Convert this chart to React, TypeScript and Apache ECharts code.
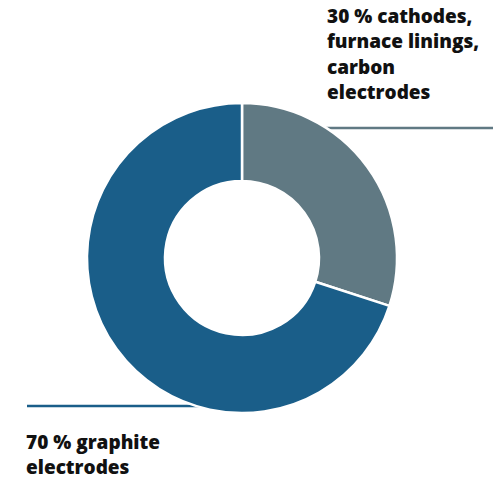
import React, { useEffect, useRef } from "react";
import * as echarts from "echarts";

const categories = ["cathodes, furnace linings, carbon electrodes", "graphite electrodes"];
const labelTexts = ["30 % cathodes,\nfurnace linings,\ncarbon\nelectrodes", "70 % graphite\nelectrodes"];
const values = [30, 70];
const colors = ["#607983", "#1a5e89"];

export default function App() {
  const ref = useRef<HTMLDivElement>(null);
  useEffect(() => {
    if (!ref.current) return;
    const chart = echarts.init(ref.current, undefined, { renderer: "svg" });
    chart.setOption({
      animation: false,
      series: [
        {
          type: "pie",
          center: [242, 258],
          radius: [77, 155],
          startAngle: 90,
          clockwise: true,
          avoidLabelOverlap: false,
          itemStyle: { borderColor: "#ffffff", borderWidth: 2.5 },
          data: categories.map((c, i) => ({
            name: c,
            value: values[i],
            itemStyle: { color: colors[i] },
            labelLine: { lineStyle: { color: colors[i], width: 2.5 } },
          })),
          label: {
            show: true,
            position: "outside",
            formatter: (p: any) => labelTexts[p.dataIndex],
            fontFamily: "Open Sans",
            fontWeight: 800,
            fontSize: 19,
            lineHeight: 25.5,
            color: "#111111",
          },
          labelLine: { show: true, smooth: false, length: 10, length2: 10 },
          labelLayout: (params: any) => {
            if (params.dataIndex === 0) {
              return {
                x: 327,
                y: 3,
                align: "left",
                verticalAlign: "top",
                labelLinePoints: [
                  [326, 128],
                  [420, 128],
                  [493, 128],
                ],
              };
            }
            return {
              x: 26,
              y: 429,
              align: "left",
              verticalAlign: "top",
              labelLinePoints: [
                [200, 406],
                [100, 406],
                [27, 406],
              ],
            };
          },
        },
      ],
    });
    return () => chart.dispose();
  }, []);
  return (
    <div
      ref={ref}
      style={{ position: "absolute", left: 0, top: 0, width: 493, height: 481 }}
    />
  );
}
